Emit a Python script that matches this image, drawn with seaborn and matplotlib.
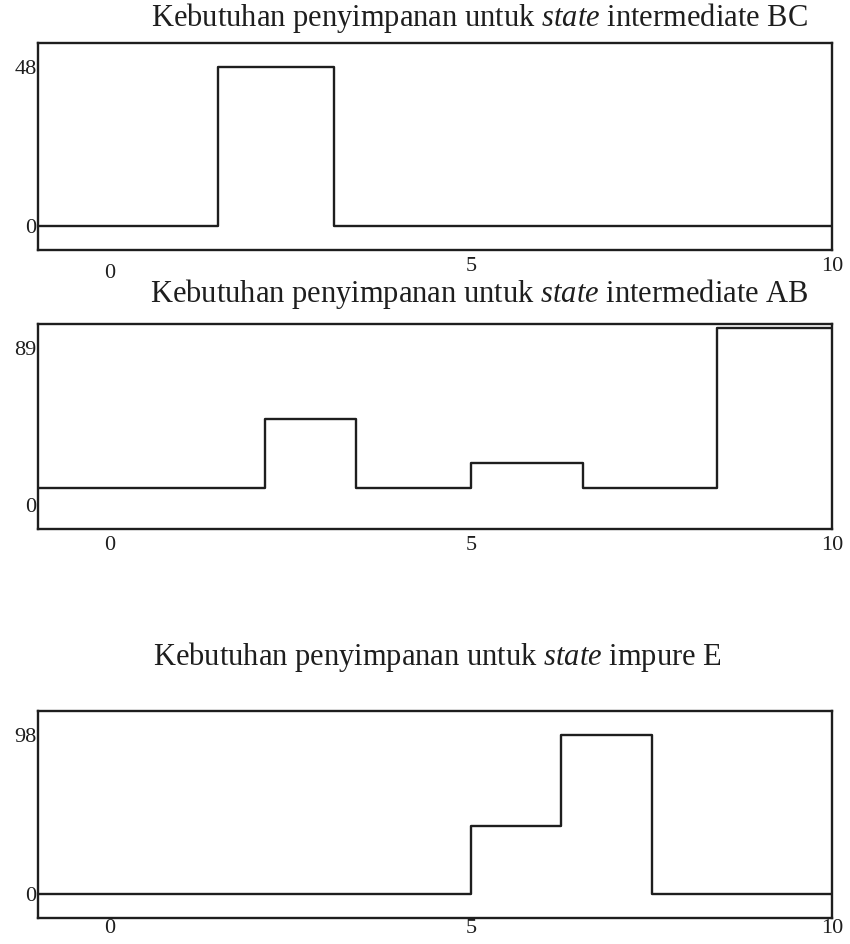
import numpy as np
import pandas as pd
import matplotlib
matplotlib.use("Agg")
import matplotlib.pyplot as plt
import matplotlib.transforms as mtransforms
import seaborn as sns

# -----------------------------
# Data (time vs storage)
# -----------------------------
bc_time = [-1, 1.5, 3.1, 10]
bc_value = [0, 48, 0, 0]

ab_time = [-1, 2.15, 3.4, 5.0, 6.55, 8.4, 10]
ab_value = [10, 49, 10, 24, 10, 100, 100]

e_time = [-1, 5.0, 6.25, 7.5, 10]
e_value = [0, 42, 98, 0, 0]

x_ticks = [0, 5, 10]
titles = [
    r"Kebutuhan penyimpanan untuk $\mathit{state}$ intermediate BC",
    r"Kebutuhan penyimpanan untuk $\mathit{state}$ intermediate AB",
    r"Kebutuhan penyimpanan untuk $\mathit{state}$ impure E",
]
y_ticks = [[0, 48], [0, 89], [0, 98]]
y_limits = [(-7.2, 55.2), (-13.35, 102.35), (-14.7, 112.7)]

# -----------------------------
# Style
# -----------------------------
sns.set_theme(style="white")
plt.rcParams["font.family"] = ["Liberation Serif", "DejaVu Serif"]
plt.rcParams["mathtext.fontset"] = "custom"
plt.rcParams["mathtext.rm"] = "Liberation Serif"
plt.rcParams["mathtext.it"] = "Liberation Serif:italic"

W, H = 850, 944
fig = plt.figure(figsize=(W / 100, H / 100), dpi=100)

# axes boxes in pixels: (left, top, right, bottom)
boxes = [(38, 43, 832, 250), (38, 324, 832, 529), (38, 711, 832, 918)]
title_pos = [(479, 18), (479, 294), (437, 657)]
x_pads = [5, 5, 1]

series = [
    pd.DataFrame({"t": bc_time, "v": bc_value}),
    pd.DataFrame({"t": ab_time, "v": ab_value}),
    pd.DataFrame({"t": e_time, "v": e_value}),
]

line_col = "#1e1e1e"

for i, df in enumerate(series):
    l, t, r, b = boxes[i]
    ax = fig.add_axes([l / W, 1 - b / H, (r - l) / W, (b - t) / H])
    sns.lineplot(data=df, x="t", y="v", ax=ax, estimator=None,
                 drawstyle="steps-post", color=line_col, linewidth=1.7)
    ax.set_xlim(-1, 10)
    ax.set_ylim(*y_limits[i])
    ax.set_xticks(x_ticks)
    ax.set_yticks(y_ticks[i])
    ax.set_xlabel("")
    ax.set_ylabel("")
    ax.tick_params(axis="both", length=0, labelsize=16, colors=line_col)
    ax.tick_params(axis="x", pad=x_pads[i])
    ax.tick_params(axis="y", pad=1)
    for s in ax.spines.values():
        s.set_visible(True)
        s.set_color(line_col)
        s.set_linewidth(1.7)
    tx, ty = title_pos[i]
    fig.text(tx / W, 1 - ty / H, titles[i], ha="center", va="center",
             fontsize=22, color=line_col)
    if i == 0:
        # the "0" under the first panel sits a bit lower than the others
        lab = ax.get_xticklabels()[0]
        lab.set_transform(lab.get_transform() +
                          mtransforms.ScaledTranslation(0, -0.07, fig.dpi_scale_trans))

fig.savefig("out.png", dpi=100, facecolor="white")
